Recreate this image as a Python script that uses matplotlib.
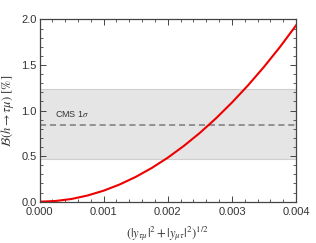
import numpy as np
import matplotlib
matplotlib.use("Agg")
import matplotlib.pyplot as plt
from matplotlib.ticker import MultipleLocator

# values
coupling = [0.0, 0.00025, 0.0005, 0.00075, 0.001, 0.00125, 0.0015, 0.00175,
            0.002, 0.00225, 0.0025, 0.00275, 0.003, 0.00325, 0.0035, 0.00375, 0.004]
br_percent = [0.0, 0.0076, 0.030, 0.068, 0.121, 0.189, 0.272, 0.370,
              0.483, 0.612, 0.755, 0.914, 1.088, 1.276, 1.480, 1.699, 1.935]

cms_central = 0.84
cms_low = 0.465
cms_high = 1.235

x_ticks = [0.000, 0.001, 0.002, 0.003, 0.004]
y_ticks = [0.0, 0.5, 1.0, 1.5, 2.0]

plt.rcParams['font.family'] = ['Liberation Sans', 'DejaVu Sans']
plt.rcParams['mathtext.fontset'] = 'stix'

fig = plt.figure(figsize=(3.16, 2.43), dpi=100)
ax = fig.add_axes([0.125, 0.170, 0.812, 0.750])

# CMS band and central value
ax.axhspan(cms_low, cms_high, facecolor='#e5e5e5', edgecolor='#cfcfcf', lw=0.8, zorder=0)
ax.axhline(cms_central, color='#7a7a7a', lw=1.1, ls=(0, (4, 2.5)), zorder=1)
ax.text(0.00024, cms_central + 0.12, r'CMS 1$\sigma$', fontsize=6.5, color='#333333', va='center')

# branching ratio curve
ax.plot(coupling, br_percent, color='#ee0000', lw=1.5, zorder=2)

ax.set_xlim(0, 0.004)
ax.set_ylim(0, 2.0)
ax.set_xticks(x_ticks)
ax.set_xticklabels([f'{t:.3f}' for t in x_ticks])
ax.set_yticks(y_ticks)
ax.set_yticklabels([f'{t:.1f}' for t in y_ticks])
ax.xaxis.set_minor_locator(MultipleLocator(0.0002))
ax.yaxis.set_minor_locator(MultipleLocator(0.1))
ax.tick_params(which='both', direction='in', top=True, right=True, color='#444444',
               labelsize=8, labelcolor='#333333')
ax.tick_params(axis='x', which='major', pad=4)
ax.tick_params(axis='y', which='major', pad=2)
ax.tick_params(which='major', length=4, width=0.7)
ax.tick_params(which='minor', length=2.2, width=0.6)
for s in ax.spines.values():
    s.set_color('#444444')
    s.set_linewidth(0.9)

ax.set_xlabel(r'$(|y_{\tau\mu}|^2+|y_{\mu\tau}|^2)^{1/2}$', fontsize=9, color='#333333', labelpad=5)
ax.set_ylabel(r'$\mathcal{B}(h\to\tau\mu)$ [%]', fontsize=9, color='#333333', labelpad=4,
              family='STIXGeneral')

fig.savefig('out.png', dpi=100)
